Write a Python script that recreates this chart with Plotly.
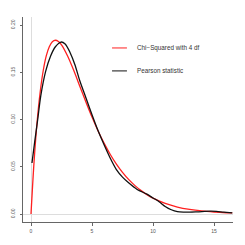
import plotly.graph_objects as go

# Chi-squared (4 df) density
chi_x = [0, 0.25, 0.5, 0.75, 1, 1.25, 1.5, 1.75, 2, 2.25, 2.5, 3, 3.5, 4, 4.5, 5, 5.5, 6, 6.5, 7,
         7.5, 8, 8.5, 9, 9.5, 10, 11, 12, 13, 14, 15, 16, 16.5]
chi_y = [0, 0.0552, 0.0974, 0.1289, 0.1516, 0.1673, 0.1771, 0.1824, 0.1839, 0.1826, 0.1791, 0.1673,
         0.1521, 0.1353, 0.1186, 0.1026, 0.0879, 0.0747, 0.0630, 0.0528, 0.0441, 0.0366, 0.0303,
         0.0250, 0.0205, 0.0168, 0.0112, 0.0074, 0.0049, 0.0032, 0.0021, 0.0013, 0.0011]

# Pearson statistic density estimate
pear_x = [0.08, 0.3, 0.55, 0.8, 1.2, 1.6, 2.0, 2.45, 2.8, 3.2, 3.6, 4.0, 4.5, 5.0, 5.5, 6.0, 6.5, 7.0,
          7.5, 8.0, 8.7, 9.5, 10.0, 10.5, 11.0, 11.5, 12.0, 12.5, 13.0, 13.5, 14.0, 14.7, 15.2, 15.8, 16.5]
pear_y = [0.054, 0.076, 0.100, 0.125, 0.151, 0.167, 0.177, 0.182, 0.180, 0.171, 0.158, 0.141, 0.123,
          0.105, 0.088, 0.073, 0.059, 0.047, 0.039, 0.033, 0.026, 0.021, 0.017, 0.013, 0.008, 0.0045,
          0.0025, 0.002, 0.002, 0.0022, 0.0025, 0.003, 0.0028, 0.002, 0.0012]

x_ticks = [0, 5, 10, 15]
x_labels = ["0", "5", "10", "15"]
y_ticks = [0, 0.05, 0.10, 0.15, 0.20]
y_labels = ["0.00", "0.05", "0.10", "0.15", "0.20"]
legend_labels = ["Chi\u2212Squared with 4 df", "Pearson statistic"]

fig = go.Figure()
fig.add_trace(go.Scatter(x=chi_x, y=chi_y, mode="lines", line=dict(color="#ff2020", width=1.3, shape="spline", smoothing=0.8),
                         showlegend=False, hoverinfo="skip"))
fig.add_trace(go.Scatter(x=pear_x, y=pear_y, mode="lines", line=dict(color="#111111", width=1.3, shape="spline", smoothing=0.8),
                         showlegend=False, hoverinfo="skip"))

font = dict(family="Liberation Sans, Arial, sans-serif", size=5, color="#555555")

fig.update_layout(
    width=245, height=245,
    margin=dict(l=23, r=12, t=17, b=23),
    paper_bgcolor="white", plot_bgcolor="white",
    showlegend=False,
    xaxis=dict(range=[-0.656, 16.557], tickvals=x_ticks, ticktext=x_labels, showgrid=False,
               zeroline=True, zerolinecolor="#dddddd", zerolinewidth=1, automargin=False,
               showline=True, linecolor="#666666", linewidth=1,
               ticks="outside", ticklen=3, tickcolor="#666666", tickfont=font, ticklabelstandoff=1),
    yaxis=dict(range=[-0.00847, 0.2085], tickvals=y_ticks, ticktext=y_labels, showgrid=False,
               zeroline=True, zerolinecolor="#dddddd", zerolinewidth=1, automargin=False,
               showline=True, linecolor="#666666", linewidth=1,
               ticks="outside", ticklen=2, tickcolor="#666666", tickfont=font, tickangle=-90,
               ticklabelstandoff=3),
)

legend_colors = ["#ff2020", "#111111"]
legend_y = [0.849, 0.737]
for lab, col, yy in zip(legend_labels, legend_colors, legend_y):
    fig.add_shape(type="line", xref="paper", yref="paper", x0=0.424, x1=0.495, y0=yy, y1=yy,
                  line=dict(color=col, width=1))
    fig.add_annotation(text=lab, xref="paper", yref="paper", x=0.533, y=yy, xanchor="left",
                       yanchor="middle", showarrow=False,
                       font=dict(family="Liberation Sans, Arial, sans-serif", size=6.3, color="#333333"))

fig.write_html("out.html", config={"displayModeBar": False},
               post_script="document.body.style.margin='0';")
